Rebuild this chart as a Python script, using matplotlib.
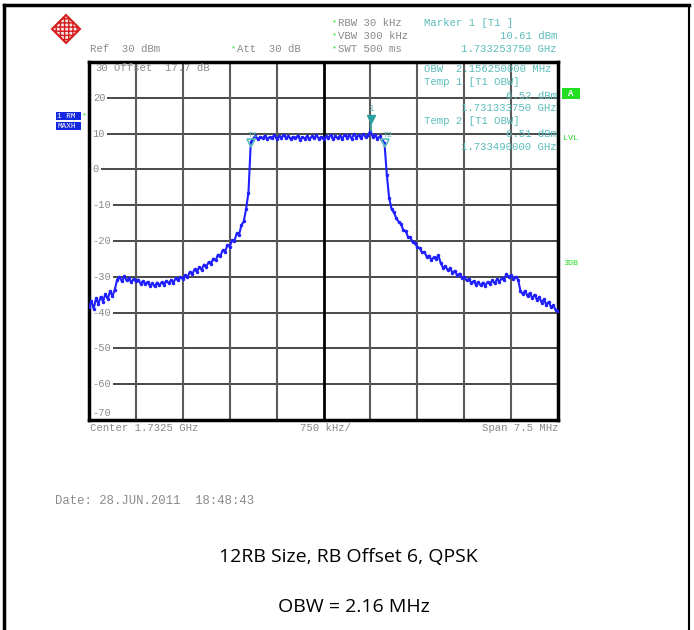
import numpy as np
import matplotlib.pyplot as plt
from matplotlib.patches import Polygon, Rectangle
from matplotlib.lines import Line2D

W, H = 694, 630

# spectrum analyzer settings
center_ghz = 1.7325
span_mhz = 7.5
ref_level = 30
y_bottom = -70
grid_levels = [20, 10, 0, -10, -20, -30, -40, -50, -60]
level_labels = ["20", "10", "0", "-10", "-20", "-30", "-40", "-50", "-60"]

# trace levels (dBm), one every 0.05 division (0.0375 MHz)
trace_lo = [-38.5, -36.8, -38.9, -36.0, -37.5, -35.6, -36.9, -34.8, -36.2, -34.0, -35.4, -33.6]
trace_rise = [-30.8, -30.1, -31.2, -29.9, -31.0, -30.4, -31.5, -30.6, -31.3, -30.8,
              -31.9, -31.2, -32.0, -31.4, -32.6, -31.8, -32.7, -31.6, -32.4, -31.5,
              -32.2, -31.1, -31.8, -30.9, -31.6, -30.4, -31.0, -30.0, -30.6, -29.6,
              -30.1, -28.6, -29.3, -27.9, -28.6, -27.3, -28.0, -26.6, -27.2, -25.9,
              -26.4, -24.9, -25.4, -23.8, -24.3, -22.6, -23.0, -21.2, -21.6, -19.8,
              -20.0, -17.9, -18.2, -15.6, -14.5, -11.0, -6.5, 7.6]
trace_top = [8.6, 9.3, 8.4, 9.1, 8.7, 9.4, 8.5, 9.0, 8.8, 9.5,
             8.6, 9.2, 8.9, 9.6, 8.7, 9.3, 8.5, 9.1, 8.8, 9.4,
             8.3, 9.0, 8.6, 9.3, 8.4, 9.2, 8.7, 9.5, 8.6, 9.1,
             8.4, 9.3, 8.8, 9.6, 8.5, 9.2, 8.7, 9.4, 8.6, 9.7,
             8.9, 9.5, 8.6, 9.8, 8.9, 9.6, 8.7, 9.9, 9.0, 9.7,
             10.6, 9.1, 9.6, 8.6, 9.2, 8.1, 7.4]
trace_fall = [-1.5, -8.0, -11.0, -12.0, -13.6, -14.6, -15.2, -16.9, -17.2, -18.8,
              -19.0, -20.3, -20.5, -21.8, -22.0, -23.2, -23.0, -24.4, -24.1, -25.3,
              -24.6, -25.0, -24.0, -26.2, -27.5, -27.0, -28.2, -27.6, -28.9, -28.3,
              -29.6, -29.1, -30.4, -30.0, -31.0, -30.6, -31.7, -31.2, -32.2, -31.5,
              -32.4, -31.6, -32.5, -31.4, -32.0, -31.0, -31.8, -30.7, -31.4, -30.4,
              -30.9, -29.2, -30.0, -29.6, -30.6, -30.0, -30.8, -34.0, -34.8, -33.9,
              -35.4, -34.5, -36.0, -35.0, -36.4, -35.6, -37.2, -36.3, -37.8, -37.0,
              -38.4, -38.0, -39.3, -39.6]

levels = np.array(trace_lo + trace_rise + trace_top + trace_fall)
freq = np.linspace(-span_mhz / 2, span_mhz / 2, len(levels))  # sweep points, MHz from center

# markers: (offset MHz, level dBm)
t1 = (1.73133375e3 - center_ghz * 1e3, 7.3)
t2 = (1.73349e3 - center_ghz * 1e3, 7.3)
m1 = (1.73325375e3 - center_ghz * 1e3, 10.61)

gray = "#8a8a8a"
teal = "#5cbcbc"
green = "#22dd22"
mono = "Liberation Mono"

fig = plt.figure(figsize=(W / 100, H / 100), dpi=100)


def fx(x):
    return x / W


def fy(y):
    return 1 - y / H


def ftext(x, y, s, **kw):
    kw.setdefault("family", mono)
    kw.setdefault("fontsize", 7.7)
    kw.setdefault("color", gray)
    kw.setdefault("va", "center")
    fig.text(fx(x), fy(y), s, **kw)


# page frame
fig.add_artist(Line2D([fx(4), fx(4)], [fy(5), 0], color="black", lw=2.5))
fig.add_artist(Line2D([fx(4), fx(689)], [fy(5), fy(5)], color="black", lw=2.5))
fig.add_artist(Line2D([fx(689), fx(689)], [fy(5), 0], color="black", lw=1.5))

ax = fig.add_axes([fx(89), fy(420), (558 - 89) / W, (420 - 62) / H])
ax.set_xlim(-span_mhz / 2, span_mhz / 2)
ax.set_ylim(y_bottom, ref_level)
ax.set_xticks([])
ax.set_yticks([])
for s in ax.spines.values():
    s.set_linewidth(2.5)

for lv in grid_levels:
    ax.axhline(lv, color="#3a3a3a", lw=1.3, zorder=1)
div = span_mhz / 10
for k in range(1, 10):
    if k == 5:
        ax.axvline(-span_mhz / 2 + k * div, color="black", lw=2, zorder=1)
    else:
        ax.axvline(-span_mhz / 2 + k * div, color="#5a5a5a", lw=1.5, zorder=1)

for lv, lab in zip(grid_levels, level_labels):
    ax.text(-span_mhz / 2 + 0.06, lv, lab, family=mono, fontsize=7.5, color=gray,
            va="center", ha="left", zorder=2,
            bbox=dict(boxstyle="square,pad=0.15", fc="white", ec="none"))
ax.text(-span_mhz / 2 + 0.06, -68, "-70", family=mono, fontsize=7.5, color=gray,
        va="center", ha="left")

ax.plot(freq, levels, color="#1f1fff", lw=1.5, marker=".", ms=3, zorder=3)

# markers
ax.plot(*t1, marker="v", ms=6, mfc="none", mec=teal, mew=1.2, zorder=4)
ax.plot(*t2, marker="v", ms=6, mfc="none", mec=teal, mew=1.2, zorder=4)
ax.plot(m1[0], m1[1] + 3.5, marker="v", ms=6, color="#2aa0a0", zorder=4)
ax.plot([m1[0], m1[0]], [m1[1], m1[1] + 3.5], color="#2aa0a0", lw=1.2, zorder=4)
ax.text(m1[0], m1[1] + 6.5, "1", color=teal, family=mono, fontsize=6.5,
        ha="center", va="center")
ax.text(t1[0] - 0.05, t1[1] + 2.3, "T1", color=teal, family=mono, fontsize=6,
        ha="left", va="center")
ax.text(t2[0] - 0.05, t2[1] + 2.3, "T2", color=teal, family=mono, fontsize=6,
        ha="left", va="center")

# header
logo = Polygon([[fx(66), fy(15)], [fx(80), fy(29)], [fx(66), fy(43)], [fx(52), fy(29)]],
               closed=True, fc="#fbe3e3", ec="#d42020", lw=1.5, transform=fig.transFigure,
               hatch="++++", zorder=5)
fig.add_artist(logo)
ftext(66, 27, "RS", color="#cc1111", fontsize=6.5, ha="center", weight="bold", family="DejaVu Sans")

for y, s in [(23, "RBW 30 kHz"), (36, "VBW 300 kHz"), (49, "SWT 500 ms")]:
    ftext(332, y, "*", color=green, fontsize=6)
    ftext(338, y, s)
ftext(90, 49, "Ref  30 dBm")
ftext(231, 49, "*", color=green, fontsize=6)
ftext(237, 49, "Att  30 dB")

ftext(424, 23, "Marker 1 [T1 ]", color=teal)
ftext(557, 36, "10.61 dBm", color=teal, ha="right")
ftext(557, 49, "1.733253750 GHz", color=teal, ha="right")

ftext(95, 68, "30")
ftext(114, 68, "Offset  17.7 dB")
ftext(424, 69, "OBW  2.156250000 MHz", color=teal)
ftext(424, 82, "Temp 1 [T1 OBW]", color=teal)
ftext(557, 96, "6.52 dBm", color=teal, ha="right")
ftext(557, 108, "1.731333750 GHz", color=teal, ha="right")
ftext(424, 121, "Temp 2 [T1 OBW]", color=teal)
ftext(557, 134, "6.51 dBm", color=teal, ha="right")
ftext(557, 147, "1.733490000 GHz", color=teal, ha="right")

# side annotations
fig.add_artist(Rectangle((fx(562), fy(99)), 18 / W, 11 / H, transform=fig.transFigure,
                         fc=green, ec="none"))
ftext(571, 93.5, "A", color="white", fontsize=6.5, ha="center", weight="bold")
ftext(563, 139, "LVL", color=green, fontsize=6)
ftext(563, 263, "3DB", color=green, fontsize=6)

fig.add_artist(Rectangle((fx(56), fy(120)), 25 / W, 8 / H, transform=fig.transFigure,
                         fc="#1428e0", ec="none"))
fig.add_artist(Rectangle((fx(56), fy(130)), 25 / W, 8 / H, transform=fig.transFigure,
                         fc="#1428e0", ec="none"))
ftext(57, 116, "1 RM", color="white", fontsize=5.5)
ftext(57, 126, "MAXH", color="white", fontsize=5.5)
ftext(82, 116, "*", color=green, fontsize=6)

# footer
ftext(90, 428, "Center 1.7325 GHz")
ftext(326, 428, "750 kHz/", ha="center")
ftext(558, 428, "Span 7.5 MHz", ha="right")
ftext(55, 501, "Date: 28.JUN.2011  18:48:43", fontsize=8.8)

ftext(348, 557, "12RB Size, RB Offset 6, QPSK", family="Open Sans", fontsize=14,
      color="black", ha="center")
ftext(354, 607, "OBW = 2.16 MHz", family="Open Sans", fontsize=14,
      color="black", ha="center")

fig.savefig("out.png", dpi=100)
